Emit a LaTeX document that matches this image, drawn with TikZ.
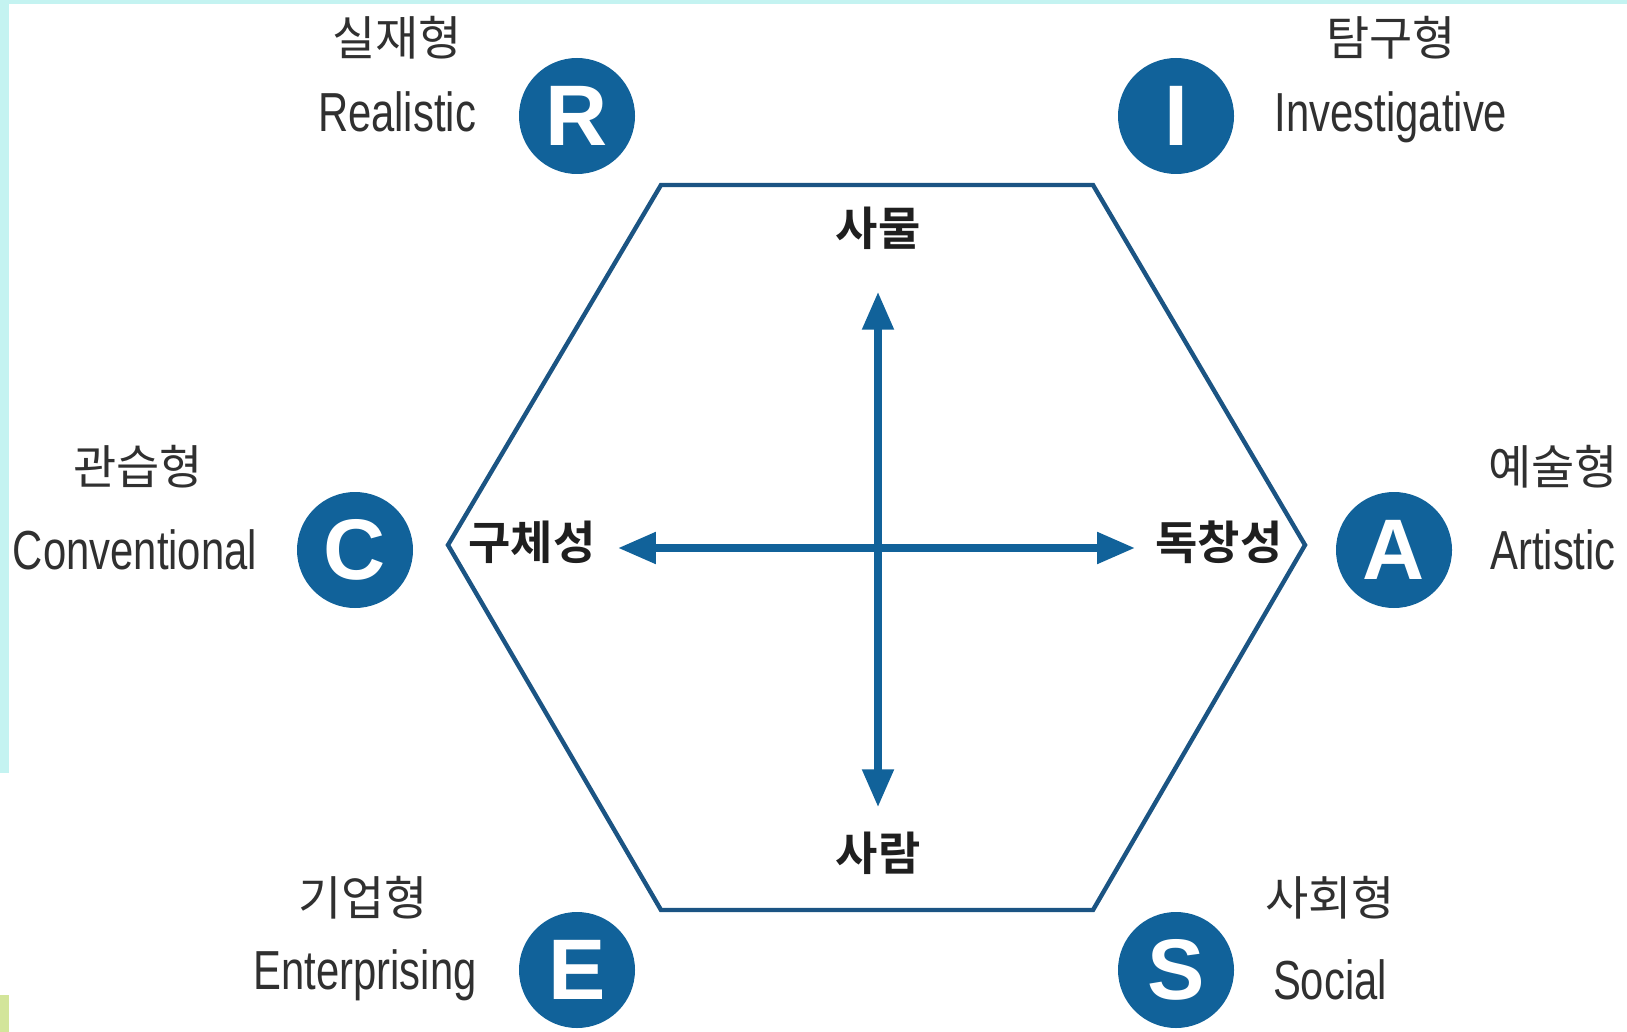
\documentclass[tikz,border=0pt]{standalone}
\usepackage{fontspec}
\setmainfont{Liberation Sans}
\newfontfamily\narrowfont[FakeStretch=0.76]{Liberation Sans}
\newfontfamily\kofont[BoldFont={Noto Sans CJK KR Bold}]{Noto Sans CJK KR}
\usetikzlibrary{arrows.meta}

\definecolor{riasecblue}{HTML}{11629A}
\definecolor{hexblue}{HTML}{1B5483}
\definecolor{framecyan}{HTML}{C4F3F1}
\definecolor{framegreen}{HTML}{D3E59A}
\definecolor{labelgray}{HTML}{303030}

\tikzset{
  typecircle/.style={circle, fill=riasecblue, minimum size=58pt, inner sep=0pt,
    text=white, font=\fontsize{43}{43}\selectfont\bfseries},
  koname/.style={text=labelgray, inner sep=0pt, font=\kofont\fontsize{23.5}{23.5}\selectfont},
  enname/.style={text=labelgray, inner sep=0pt, font=\narrowfont\fontsize{27.5}{27.5}\selectfont},
  axislabel/.style={text=black!88, inner sep=0pt, font=\kofont\bfseries\fontsize{23}{23}\selectfont},
  axis/.style={draw=riasecblue, line width=4pt,
    {Triangle[length=19pt,width=15pt]}-{Triangle[length=19pt,width=15pt]}},
}

\begin{document}
\begin{tikzpicture}[x=0.5pt, y=-0.5pt]
  \useasboundingbox (0,0) rectangle (1627,1032);
  % frame strips
  \fill[framecyan] (0,0) rectangle (1627,4);
  \fill[framecyan] (0,0) rectangle (9,773);
  \fill[framegreen] (0,995) rectangle (9,1032);

  % hexagon
  \coordinate (hexnw) at (661,185);
  \coordinate (hexne) at (1093,185);
  \coordinate (hexe) at (1305,545);
  \coordinate (hexse) at (1093,910);
  \coordinate (hexsw) at (661,910);
  \coordinate (hexw) at (448,545);
  \draw[hexblue, line width=2.2pt, line join=miter]
    (hexnw) -- (hexne) -- (hexe) -- (hexse) -- (hexsw) -- (hexw) -- cycle;

  % types
  \node[typecircle] (real) at (577,116) {R};
  \node[typecircle] (inv) at (1176,116) {I};
  \node[typecircle] (conv) at (355,550) {C};
  \node[typecircle] (art) at (1394,550) {A};
  \node[typecircle] (ent) at (577,970) {E};
  \node[typecircle] (soc) at (1176,970) {S};

  \node[koname] (realko) at (397,38) {실재형};
  \node[enname] (realen) at (397,112) {Realistic};
  \node[koname] (invko) at (1391,38) {탐구형};
  \node[enname] (inven) at (1391,117) {Investigative};
  \node[koname] (convko) at (138,467) {관습형};
  \node[enname] (conven) at (135,550) {Conventional};
  \node[koname] (artko) at (1553,467) {예술형};
  \node[enname] (arten) at (1553,550) {Artistic};
  \node[koname] (entko) at (363,898) {기업형};
  \node[enname] (enten) at (365,975) {Enterprising};
  \node[koname] (socko) at (1330,898) {사회형};
  \node[enname] (socen) at (1330,980) {Social};

  % axes
  \node[axislabel] (thing) at (878,228) {사물};
  \node[axislabel] (people) at (878,853) {사람};
  \node[axislabel] (concrete) at (532,542) {구체성};
  \node[axislabel] (origin) at (1219,542) {독창성};
  \draw[axis, shorten <=21pt, shorten >=12pt] (thing.south) -- (people.north);
  \draw[axis, shorten <=11pt, shorten >=10pt]
    ([yshift=-3pt]concrete.east) -- ([yshift=-3pt]origin.west);
\end{tikzpicture}
\end{document}
